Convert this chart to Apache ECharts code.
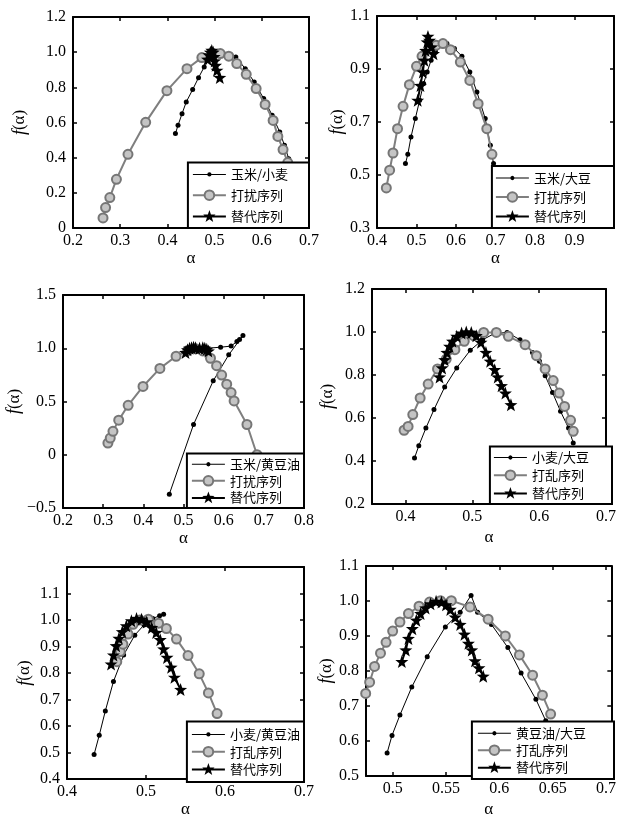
<!DOCTYPE html>
<html><head><meta charset="utf-8">
<script src="https://cdn.jsdelivr.net/npm/echarts@6/dist/echarts.min.js"></script>
<style>html,body{margin:0;padding:0;background:#fff}#c{width:619px;height:819px}</style>
</head><body><div id="c"></div>
<script>
// ---------- data (α, f(α)) ----------
// Panel 1
const p1Pair = [[0.417,0.537],[0.4225,0.584],[0.431,0.650],[0.440,0.717],[0.4535,0.787],[0.466,0.855],[0.478,0.916],[0.490,0.963],[0.498,0.992],[0.508,0.998],[0.520,0.990],[0.532,0.985],[0.545,0.973],[0.565,0.906],[0.584,0.830],[0.604,0.736],[0.622,0.641],[0.638,0.546],[0.648,0.470],[0.657,0.394]];
const p1Shuffle = [[0.2636,0.057],[0.269,0.116],[0.278,0.173],[0.292,0.277],[0.3165,0.419],[0.354,0.601],[0.399,0.781],[0.4415,0.906],[0.473,0.969],[0.495,0.995],[0.512,0.992],[0.530,0.977],[0.547,0.935],[0.567,0.874],[0.588,0.793],[0.607,0.703],[0.624,0.612],[0.634,0.521],[0.645,0.446],[0.655,0.372]];
const p1Surr = [[0.485,0.960],[0.488,0.985],[0.491,1.000],[0.494,1.010],[0.497,1.000],[0.499,0.975],[0.500,0.950],[0.502,0.925],[0.505,0.897],[0.511,0.856]];
// Panel 2
const p2Pair = [[0.472,0.543],[0.478,0.578],[0.486,0.643],[0.497,0.713],[0.508,0.782],[0.518,0.845],[0.527,0.889],[0.537,0.933],[0.548,0.968],[0.560,0.989],[0.577,0.996],[0.596,0.977],[0.615,0.948],[0.635,0.889],[0.653,0.813],[0.674,0.713],[0.687,0.612],[0.695,0.543]];
const p2Shuffle = [[0.4236,0.451],[0.432,0.518],[0.4405,0.583],[0.452,0.675],[0.466,0.759],[0.482,0.841],[0.500,0.910],[0.514,0.948],[0.535,0.975],[0.550,0.990],[0.567,0.996],[0.586,0.973],[0.611,0.926],[0.635,0.857],[0.656,0.769],[0.678,0.675],[0.691,0.578]];
const p2Surr = [[0.503,0.782],[0.510,0.838],[0.516,0.889],[0.520,0.933],[0.523,0.970],[0.527,1.002],[0.529,1.023],[0.533,1.008],[0.538,0.983],[0.543,0.958]];
// Panel 3
const p3Pair = [[0.4647,-0.370],[0.525,0.284],[0.574,0.694],[0.6126,0.938],[0.648,1.120],[0.6395,1.083],[0.633,1.064],[0.6185,1.020],[0.5924,1.010],[0.560,1.000]];
const p3Shuffle = [[0.3118,0.110],[0.3176,0.157],[0.3244,0.220],[0.3387,0.325],[0.3622,0.464],[0.3992,0.641],[0.4412,0.811],[0.4815,0.925],[0.511,0.979],[0.530,0.995],[0.548,0.975],[0.5672,0.906],[0.5824,0.836],[0.595,0.748],[0.6076,0.663],[0.6185,0.584],[0.626,0.505],[0.658,0.284],[0.683,0.000]];
const p3Surr = [[0.505,0.960],[0.510,0.985],[0.515,1.000],[0.520,1.005],[0.525,1.010],[0.530,1.005],[0.540,1.000],[0.548,1.005],[0.553,1.000],[0.558,0.990],[0.562,0.975]];
// Panel 4
const p4Pair = [[0.4136,0.414],[0.420,0.471],[0.4306,0.553],[0.4427,0.639],[0.4587,0.744],[0.4767,0.833],[0.497,0.915],[0.5155,0.964],[0.5325,0.992],[0.552,0.998],[0.5714,0.964],[0.590,0.905],[0.6005,0.864],[0.609,0.797],[0.620,0.719],[0.632,0.631],[0.644,0.553],[0.651,0.484]];
const p4Shuffle = [[0.398,0.543],[0.404,0.561],[0.411,0.616],[0.422,0.693],[0.434,0.758],[0.448,0.828],[0.461,0.874],[0.474,0.918],[0.488,0.957],[0.502,0.983],[0.517,0.998],[0.536,0.998],[0.554,0.980],[0.579,0.941],[0.596,0.890],[0.609,0.828],[0.621,0.774],[0.630,0.716],[0.638,0.654],[0.647,0.589],[0.651,0.538]];
const p4Surr = [[0.451,0.791],[0.4549,0.833],[0.4587,0.871],[0.462,0.905],[0.466,0.933],[0.4704,0.957],[0.4767,0.980],[0.484,0.995],[0.491,1.000],[0.4985,0.998],[0.506,0.983],[0.513,0.952],[0.5204,0.905],[0.5267,0.864],[0.5335,0.825],[0.538,0.791],[0.5437,0.750],[0.5495,0.716],[0.5578,0.662]];
// Panel 5
const p5Pair = [[0.4343,0.493],[0.4408,0.565],[0.4485,0.657],[0.4588,0.768],[0.4717,0.868],[0.4858,0.943],[0.4974,0.981],[0.5086,1.006],[0.5172,1.016],[0.5223,1.022]];
const p5Shuffle = [[0.463,0.843],[0.4674,0.881],[0.4708,0.909],[0.4773,0.947],[0.4837,0.984],[0.4923,1.000],[0.503,1.003],[0.5159,0.988],[0.5258,0.968],[0.5386,0.928],[0.5532,0.866],[0.5674,0.797],[0.579,0.725],[0.590,0.647]];
const p5Surr = [[0.4558,0.834],[0.4588,0.868],[0.4622,0.903],[0.4657,0.931],[0.470,0.956],[0.4751,0.978],[0.4815,0.997],[0.488,1.006],[0.4944,1.003],[0.5009,0.993],[0.5073,0.972],[0.5129,0.953],[0.518,0.926],[0.5223,0.891],[0.5266,0.859],[0.5318,0.822],[0.536,0.784],[0.5438,0.738]];
// Panel 6
const p6Pair = [[0.4948,0.566],[0.4994,0.616],[0.5068,0.674],[0.5179,0.754],[0.5324,0.841],[0.5494,0.926],[0.5633,0.968],[0.5735,1.016],[0.5796,0.968],[0.5926,0.933],[0.608,0.867],[0.6204,0.794],[0.6343,0.719],[0.6435,0.658]];
const p6Shuffle = [[0.4747,0.736],[0.4784,0.768],[0.483,0.813],[0.4886,0.851],[0.4938,0.882],[0.500,0.914],[0.5068,0.940],[0.5148,0.964],[0.5247,0.985],[0.5346,0.997],[0.5448,1.001],[0.555,1.001],[0.5725,0.983],[0.5895,0.948],[0.6056,0.900],[0.6188,0.846],[0.6312,0.788],[0.6404,0.731],[0.6481,0.677]];
const p6Surr = [[0.5086,0.827],[0.5123,0.860],[0.5148,0.893],[0.5185,0.921],[0.5222,0.945],[0.5262,0.964],[0.5309,0.980],[0.5355,0.992],[0.5407,0.999],[0.5457,0.997],[0.550,0.989],[0.554,0.976],[0.5586,0.954],[0.5633,0.933],[0.5673,0.905],[0.571,0.879],[0.5741,0.860],[0.5772,0.829],[0.5809,0.809],[0.5849,0.785]];

// ---------- names ----------
const pairNames = ['玉米/小麦','玉米/大豆','玉米/黄豆油','小麦/大豆','小麦/黄豆油','黄豆油/大豆'];
const shuffleNames = ['打扰序列','打扰序列','打扰序列','打乱序列','打乱序列','打乱序列'];
const surrName = '替代序列';

// ---------- ticks ----------
const p1XTicks = [0.2,0.3,0.4,0.5,0.6,0.7], p1XLabels = ['0.2','0.3','0.4','0.5','0.6','0.7'];
const p1YTicks = [0,0.2,0.4,0.6,0.8,1.0,1.2], p1YLabels = ['0','0.2','0.4','0.6','0.8','1.0','1.2'];
const p2XTicks = [0.4,0.5,0.6,0.7,0.8,0.9], p2XLabels = ['0.4','0.5','0.6','0.7','0.8','0.9'];
const p2YTicks = [0.3,0.5,0.7,0.9,1.1], p2YLabels = ['0.3','0.5','0.7','0.9','1.1'];
const p3XTicks = [0.2,0.3,0.4,0.5,0.6,0.7,0.8], p3XLabels = ['0.2','0.3','0.4','0.5','0.6','0.7','0.8'];
const p3YTicks = [-0.5,0,0.5,1.0,1.5], p3YLabels = ['\u22120.5','0','0.5','1.0','1.5'];
const p4XTicks = [0.4,0.5,0.6,0.7], p4XLabels = ['0.4','0.5','0.6','0.7'];
const p4YTicks = [0.2,0.4,0.6,0.8,1.0,1.2], p4YLabels = ['0.2','0.4','0.6','0.8','1.0','1.2'];
const p5XTicks = [0.4,0.5,0.6,0.7], p5XLabels = ['0.4','0.5','0.6','0.7'];
const p5YTicks = [0.4,0.5,0.6,0.7,0.8,0.9,1.0,1.1], p5YLabels = ['0.4','0.5','0.6','0.7','0.8','0.9','1.0','1.1'];
const p6XTicks = [0.5,0.55,0.6,0.65,0.7], p6XLabels = ['0.5','0.55','0.6','0.65','0.7'];
const p6YTicks = [0.5,0.6,0.7,0.8,0.9,1.0,1.1], p6YLabels = ['0.5','0.6','0.7','0.8','0.9','1.0','1.1'];

// ---------- layout ----------
const panels = [
  {pair:p1Pair, sh:p1Shuffle, su:p1Surr, xt:p1XTicks, xl:p1XLabels, yt:p1YTicks, yl:p1YLabels, xr:[0.2,0.7], yr:[0,1.2],
   g:[73,17,236,211], xg:12, yg:44, lg:{pad:[5.5,21,5.5,4], gap:7.8}},
  {pair:p2Pair, sh:p2Shuffle, su:p2Surr, xt:p2XTicks, xl:p2XLabels, yt:p2YTicks, yl:p2YLabels, xr:[0.4,1.0], yr:[0.3,1.1],
   g:[377,16,237,212], xg:20, yg:26, lg:{pad:[5.5,23,5.5,3], gap:6}},
  {pair:p3Pair, sh:p3Shuffle, su:p3Surr, xt:p3XTicks, xl:p3XLabels, yt:p3YTicks, yl:p3YLabels, xr:[0.2,0.8], yr:[-0.5,1.5],
   g:[63,295,241,213], xg:22, yg:34, lg:{pad:[4.2,4,4.2,4], gap:3.5}},
  {pair:p4Pair, sh:p4Shuffle, su:p4Surr, xt:p4XTicks, xl:p4XLabels, yt:p4YTicks, yl:p4YLabels, xr:[0.35,0.7], yr:[0.2,1.2],
   g:[372,289,240,215], xg:25, yg:35, lg:{pad:[4.6,23,4.6,3], gap:4.7}},
  {pair:p5Pair, sh:p5Shuffle, su:p5Surr, xt:p5XTicks, xl:p5XLabels, yt:p5YTicks, yl:p5YLabels, xr:[0.4,0.7], yr:[0.4,1.2],
   g:[67,567,237,215], xg:21, yg:33, lg:{pad:[6.5,4,6.5,4], gap:4.3}},
  {pair:p6Pair, sh:p6Shuffle, su:p6Surr, xt:p6XTicks, xl:p6XLabels, yt:p6YTicks, yl:p6YLabels, xr:[0.475,0.705], yr:[0.5,1.1],
   g:[366,566,248,213], xg:25, yg:30, lg:{pad:[5.3,28,5.3,5], gap:4}}
];

const SERIF = '"Liberation Serif","DejaVu Serif",serif';
const CJK = '"Noto Sans CJK SC","Noto Sans",sans-serif';
const STAR = 'path://M0,-10L2.35,-3.24L9.51,-3.09L3.8,1.24L5.88,8.09L0,4.3L-5.88,8.09L-3.8,1.24L-9.51,-3.09L-2.35,-3.24Z';
// legend icons: line + marker drawn in a 33x12 box
const ICON_DOT = 'path://M16.5,0L16.5,0.01Z M16.5,12L16.5,11.99Z M0,5.5L33,5.5L33,6.5L0,6.5Z M18.7,6L18.06,7.56L16.5,8.2L14.94,7.56L14.3,6L14.94,4.44L16.5,3.8L18.06,4.44Z';
const ICON_STAR = 'path://M16.5,0L18.03,4.4L22.68,4.49L18.97,7.3L20.32,11.76L16.5,9.1L12.68,11.76L14.03,7.3L10.32,4.49L14.97,4.4Z M0,5.5L33,5.5L33,7.5L0,7.5Z';

function labeler(vals, labels) {
  return function (v) {
    for (let i = 0; i < vals.length; i++) if (Math.abs(vals[i] - v) < 1e-6) return labels[i];
    return '';
  };
}

const grids = [], xAxes = [], yAxes = [], series = [], legends = [];
const W = 619, H = 819;
panels.forEach((p, i) => {
  const [gl, gt, gw, gh] = p.g;
  grids.push({left: gl, top: gt, width: gw, height: gh, containLabel: false, show: false});
  const line = {show: true, onZero: false, lineStyle: {color: '#000', width: 2}};
  const tickX = {show: true, inside: true, length: 4, customValues: p.xt, lineStyle: {color: '#000', width: 1.5}};
  const tickY = {show: true, inside: true, length: 4, customValues: p.yt, lineStyle: {color: '#000', width: 1.5}};
  const nameStyle = {fontFamily: SERIF, fontSize: 17, color: '#000'};
  xAxes.push({gridIndex: i, type: 'value', min: p.xr[0], max: p.xr[1], position: 'bottom',
    axisLine: line, axisTick: tickX, splitLine: {show: false},
    axisLabel: {customValues: p.xt, formatter: labeler(p.xt, p.xl), fontFamily: SERIF, fontSize: 16, color: '#000', margin: 5},
    name: 'α', nameLocation: 'middle', nameGap: p.xg, nameTextStyle: nameStyle});
  xAxes.push({gridIndex: i, type: 'value', min: p.xr[0], max: p.xr[1], position: 'top',
    axisLine: line, axisTick: tickX, splitLine: {show: false}, axisLabel: {show: false}});
  yAxes.push({gridIndex: i, type: 'value', min: p.yr[0], max: p.yr[1], position: 'left',
    axisLine: line, axisTick: tickY, splitLine: {show: false},
    axisLabel: {customValues: p.yt, formatter: labeler(p.yt, p.yl), fontFamily: SERIF, fontSize: 16, color: '#000', margin: 7},
    name: '{i|f}(α)', nameLocation: 'middle', nameGap: p.yg,
    nameTextStyle: Object.assign({}, nameStyle, {rich: {i: {fontFamily: SERIF, fontStyle: 'italic', fontSize: 18, color: '#000'}}})});
  yAxes.push({gridIndex: i, type: 'value', min: p.yr[0], max: p.yr[1], position: 'right',
    axisLine: line, axisTick: tickY, splitLine: {show: false}, axisLabel: {show: false}});

  series.push({type: 'line', name: pairNames[i], xAxisIndex: 2 * i, yAxisIndex: 2 * i, data: p.pair,
    symbol: 'circle', symbolSize: 5, clip: false, color: '#000',
    itemStyle: {color: '#000'}, lineStyle: {color: '#000', width: 1}, z: 3});
  series.push({type: 'line', name: shuffleNames[i], xAxisIndex: 2 * i, yAxisIndex: 2 * i, data: p.sh,
    symbol: 'circle', symbolSize: 9, clip: false, color: '#7f7f7f',
    itemStyle: {color: '#c4c4c4', borderColor: '#767676', borderWidth: 2},
    lineStyle: {color: '#7f7f7f', width: 2}, z: 4});
  series.push({type: 'line', name: surrName, xAxisIndex: 2 * i, yAxisIndex: 2 * i, data: p.su,
    symbol: STAR, symbolSize: 13, clip: false, color: '#000',
    itemStyle: {color: '#000'}, lineStyle: {color: '#000', width: 2}, z: 5});

  legends.push({data: [{name: pairNames[i], icon: ICON_DOT}, {name: shuffleNames[i]}, {name: surrName, icon: ICON_STAR}],
    orient: 'vertical',
    right: W - (gl + gw), bottom: H - (gt + gh),
    backgroundColor: '#fff', borderColor: '#000', borderWidth: 2, borderRadius: 0,
    padding: p.lg.pad, itemGap: p.lg.gap, itemWidth: 33, itemHeight: 12, selectedMode: false,
    textStyle: {fontFamily: CJK, fontSize: 13, color: '#000'}, z: 10});
});

const chart = echarts.init(document.getElementById('c'), null, {renderer: 'canvas'});
chart.setOption({
  animation: false,
  backgroundColor: '#fff',
  grid: grids, xAxis: xAxes, yAxis: yAxes, series: series, legend: legends
});
</script></body></html>
